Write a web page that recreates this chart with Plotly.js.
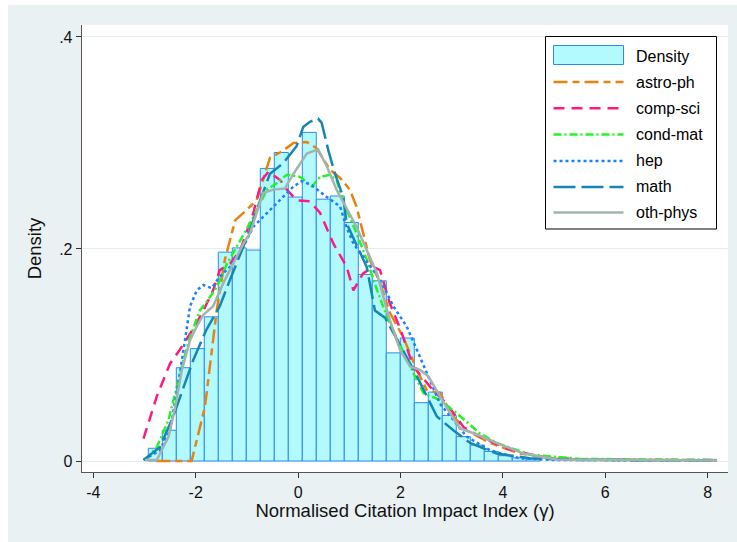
<!DOCTYPE html>
<html>
<head>
<meta charset="utf-8">
<script src="https://cdn.plot.ly/plotly-3.0.1.min.js"></script>
<style>
  html, body { margin: 0; padding: 0; background: #ffffff; width: 737px; height: 542px; overflow: hidden; }
  #chart { position: absolute; left: 8px; top: 5px; width: 729px; height: 537px; }
</style>
</head>
<body>
<div id="chart"></div>
<script>
// ---- Data ----
const binStart = -2.926;
const binWidth = 0.2734;
const histDensity = [0.012, 0.029, 0.088, 0.106, 0.136, 0.197, 0.201, 0.199, 0.276, 0.291,
                     0.249, 0.310, 0.247, 0.250, 0.225, 0.176, 0.170, 0.102, 0.116, 0.055,
                     0.065, 0.043, 0.023, 0.015, 0.009, 0.005, 0.003, 0.002];

const astroX = [-2.77, -2.08, -1.82, -1.59, -1.43, -1.23, -1.07, -0.81, -0.55, -0.32, -0.09, 0.17, 0.36, 0.62, 0.82, 1.01, 1.14, 1.40, 1.60, 1.79, 2.05, 2.32, 2.51, 2.77, 3.03, 3.29, 3.75, 4.33, 5.05, 6.0, 7.0, 8.18];
const astroY = [0, 0, 0.051, 0.142, 0.190, 0.227, 0.234, 0.246, 0.286, 0.292, 0.300, 0.301, 0.295, 0.275, 0.267, 0.256, 0.240, 0.190, 0.168, 0.140, 0.117, 0.086, 0.067, 0.064, 0.042, 0.029, 0.017, 0.007, 0.002, 0.001, 0.001, 0.0005];

const compX = [-3.02, -2.76, -2.50, -2.31, -2.11, -1.88, -1.66, -1.53, -1.33, -1.13, -0.875, -0.71, -0.58, -0.35, -0.22, -0.03, 0.23, 0.43, 0.69, 0.95, 1.08, 1.27, 1.47, 1.60, 1.79, 2.00, 2.25, 2.58, 2.90, 3.23, 3.55, 4.07, 4.72, 5.50, 6.50, 8.18];
const compY = [0.021, 0.061, 0.092, 0.105, 0.120, 0.139, 0.161, 0.180, 0.186, 0.199, 0.234, 0.265, 0.273, 0.265, 0.256, 0.246, 0.245, 0.234, 0.205, 0.183, 0.161, 0.177, 0.183, 0.180, 0.149, 0.124, 0.089, 0.070, 0.054, 0.032, 0.023, 0.012, 0.004, 0.0015, 0.001, 0.001];

const condX = [-2.99, -2.76, -2.53, -2.37, -2.24, -2.11, -1.92, -1.79, -1.59, -1.39, -1.13, -0.875, -0.61, -0.42, -0.22, 0.04, 0.27, 0.43, 0.62, 0.75, 0.92, 1.14, 1.34, 1.55, 1.76, 2.00, 2.25, 2.45, 2.75, 3.10, 3.55, 3.88, 4.53, 5.50, 8.18];
const condY = [0.001, 0.013, 0.039, 0.070, 0.095, 0.117, 0.142, 0.150, 0.164, 0.186, 0.208, 0.230, 0.256, 0.262, 0.270, 0.268, 0.259, 0.268, 0.270, 0.265, 0.240, 0.215, 0.190, 0.160, 0.133, 0.108, 0.083, 0.064, 0.058, 0.045, 0.026, 0.017, 0.006, 0.002, 0.001];

const hepX = [-3.02, -2.70, -2.50, -2.34, -2.21, -2.11, -1.98, -1.85, -1.69, -1.53, -1.33, -1.07, -0.875, -0.61, -0.35, -0.09, 0.07, 0.27, 0.56, 0.82, 0.95, 1.08, 1.27, 1.60, 1.86, 2.12, 2.32, 2.51, 2.77, 3.03, 3.29, 3.75, 4.33, 5.00, 8.18];
const hepY = [0.001, 0.010, 0.029, 0.073, 0.114, 0.146, 0.161, 0.166, 0.163, 0.174, 0.183, 0.202, 0.221, 0.234, 0.247, 0.259, 0.264, 0.260, 0.249, 0.240, 0.220, 0.205, 0.193, 0.171, 0.146, 0.127, 0.105, 0.083, 0.054, 0.039, 0.023, 0.010, 0.0025, 0.001, 0.0005];

const mathX = [-3.02, -2.70, -2.44, -2.24, -2.05, -1.79, -1.53, -1.33, -1.13, -0.94, -0.74, -0.55, -0.29, -0.03, 0.10, 0.23, 0.39, 0.46, 0.59, 0.72, 0.88, 0.95, 1.34, 1.50, 1.70, 1.93, 2.12, 2.32, 2.51, 2.71, 3.03, 3.36, 3.88, 4.53, 5.50, 8.18];
const mathY = [0.001, 0.013, 0.042, 0.070, 0.095, 0.124, 0.146, 0.171, 0.196, 0.218, 0.246, 0.271, 0.281, 0.297, 0.315, 0.320, 0.323, 0.319, 0.293, 0.271, 0.249, 0.224, 0.183, 0.142, 0.135, 0.114, 0.098, 0.080, 0.061, 0.042, 0.029, 0.017, 0.007, 0.0025, 0.001, 0.0005];

const othX = [-2.99, -2.76, -2.53, -2.40, -2.27, -2.11, -1.98, -1.85, -1.66, -1.46, -1.27, -1.07, -0.94, -0.68, -0.48, -0.26, -0.09, 0.17, 0.39, 0.56, 0.75, 0.95, 1.14, 1.34, 1.54, 1.79, 1.99, 2.19, 2.38, 2.54, 2.77, 2.97, 3.16, 3.49, 3.88, 4.40, 5.05, 8.18];
const othY = [0.001, 0.001, 0.023, 0.051, 0.086, 0.114, 0.127, 0.138, 0.146, 0.168, 0.186, 0.205, 0.215, 0.253, 0.256, 0.257, 0.271, 0.290, 0.294, 0.278, 0.256, 0.238, 0.221, 0.199, 0.177, 0.133, 0.105, 0.089, 0.086, 0.080, 0.061, 0.045, 0.031, 0.025, 0.017, 0.007, 0.0015, 0.0005];

const seriesNames = ["astro-ph", "comp-sci", "cond-mat", "hep", "math", "oth-phys"];
const xTickVals = [-4, -2, 0, 2, 4, 6, 8];
const yTickVals = [0, 0.2, 0.4];
const yTickText = ["0", ".2", ".4"];

// ---- Styles ----
const styles = [
  {color: "#E8830F", dash: "14px,5px,7px,5px"},
  {color: "#FF1A80", dash: "11px,7px"},
  {color: "#22F522", dash: "8px,3px,2px,3px"},
  {color: "#1A80FF", dash: "3px,3px"},
  {color: "#1687B0", dash: "22px,6px"},
  {color: "#A0B4B0", dash: "solid"}
];
const lineXs = [astroX, compX, condX, hepX, mathX, othX];
const lineYs = [astroY, compY, condY, hepY, mathY, othY];

const binCenters = histDensity.map((_, i) => binStart + binWidth * (i + 0.5));

const traces = [{
  type: "bar",
  x: binCenters,
  y: histDensity,
  width: binWidth,
  name: "Density",
  marker: {color: "#B3FAFF", line: {color: "#2A8CF2", width: 1}},
  showlegend: false,
  hoverinfo: "skip"
}];
seriesNames.forEach((nm, i) => {
  traces.push({
    type: "scatter", mode: "lines", name: nm,
    x: lineXs[i], y: lineYs[i],
    line: {color: styles[i].color, dash: styles[i].dash, width: 2.5},
    showlegend: false
  });
});

// ---- Layout geometry (page pixels -> paper coords) ----
const divL = 8, divT = 5, W = 729, H = 537;
const mL = 74, mR = 9, mT = 20, mB = 70;
const pw = W - mL - mR, ph = H - mT - mB;
const px = x => (x - divL - mL) / pw;
const py = y => 1 - (y - divT - mT) / ph;

const shapes = [];
const annotations = [];
// legend box
shapes.push({type: "rect", xref: "paper", yref: "paper", x0: px(545.5), x1: px(716.5), y0: py(229), y1: py(36.5),
  line: {color: "#000000", width: 1}, fillcolor: "#ffffff", layer: "above"});
// density swatch
shapes.push({type: "rect", xref: "paper", yref: "paper", x0: px(553.5), x1: px(623.5), y0: py(64.5), y1: py(45.5),
  line: {color: "#2A8CF2", width: 1}, fillcolor: "#B3FAFF", layer: "above"});
const rowY = [56, 82, 108.3, 134.5, 161, 187, 212.5];
annotations.push({xref: "paper", yref: "paper", x: px(634), y: py(rowY[0]), xanchor: "left", yanchor: "middle",
  text: "Density", showarrow: false, font: {family: "Liberation Sans, Arial, sans-serif", size: 16, color: "#000"}});
seriesNames.forEach((nm, i) => {
  const yy = rowY[i + 1];
  shapes.push({type: "line", xref: "paper", yref: "paper", x0: px(553.5), x1: px(623.5), y0: py(yy), y1: py(yy),
    line: {color: styles[i].color, dash: styles[i].dash, width: 2.5}, layer: "above"});
  annotations.push({xref: "paper", yref: "paper", x: px(634), y: py(yy), xanchor: "left", yanchor: "middle",
    text: nm, showarrow: false, font: {family: "Liberation Sans, Arial, sans-serif", size: 16, color: "#000"}});
});

const layout = {
  width: W, height: H,
  margin: {l: mL, r: mR, t: mT, b: mB, pad: 0},
  paper_bgcolor: "#EAF1F3",
  plot_bgcolor: "#ffffff",
  bargap: 0,
  showlegend: false,
  font: {family: "Liberation Sans, Arial, sans-serif", size: 16, color: "#111"},
  xaxis: {
    range: [-4.221, 8.396], tickvals: xTickVals, ticktext: xTickVals.map(String),
    ticks: "outside", ticklen: 5, tickwidth: 1, tickcolor: "#333",
    showline: true, linecolor: "#555", linewidth: 1.3, mirror: false,
    showgrid: false, zeroline: false,
    tickfont: {size: 16, color: "#111"},
    title: {text: "Normalised Citation Impact Index (γ)", font: {size: 18.5, color: "#111"}, standoff: 1}
  },
  yaxis: {
    range: [-0.01038, 0.4113], tickvals: yTickVals, ticktext: yTickText,
    ticks: "outside", ticklen: 5, tickwidth: 1, tickcolor: "#333",
    showline: true, linecolor: "#555", linewidth: 1.3,
    showgrid: true, gridcolor: "#E4EDEF", gridwidth: 1, zeroline: false,
    tickfont: {size: 16, color: "#111"},
    title: {text: "Density", font: {size: 18.5, color: "#111"}, standoff: 12}
  },
  shapes: shapes,
  annotations: annotations
};

Plotly.newPlot("chart", traces, layout, {staticPlot: true, displayModeBar: false});
</script>
</body>
</html>
